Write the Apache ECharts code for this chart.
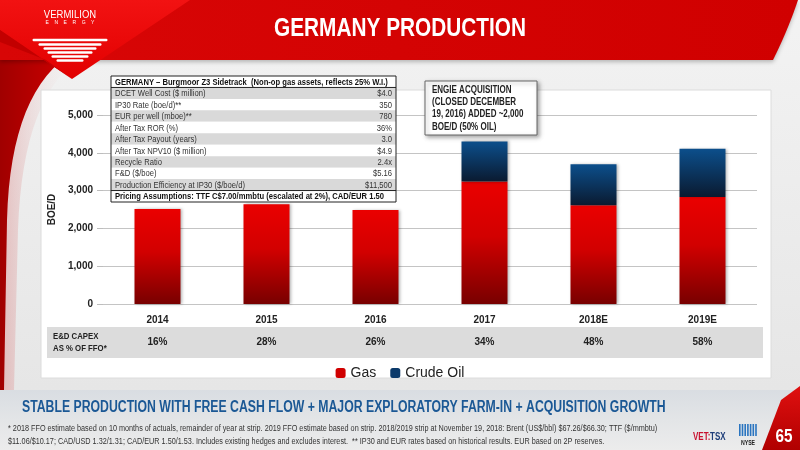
<!DOCTYPE html>
<html><head><meta charset="utf-8">
<script src="https://cdn.jsdelivr.net/npm/echarts@6/dist/echarts.min.js"></script>
<style>html,body{margin:0;padding:0;background:#fff}#c{width:800px;height:450px}</style>
</head><body><div id="c"></div>
<script>
const years = ['2014','2015','2016','2017','2018E','2019E'];
const gas = [2510, 2640, 2490, 3240, 2610, 2830];
const oil = [0, 0, 0, 1060, 1090, 1280];
const capex = ['16%','28%','26%','34%','48%','58%'];
const yMin = 0, yMax = 5000, yStep = 1000;
const tableTitle = 'GERMANY \u2013 Burgmoor Z3 Sidetrack  (Non-op gas assets, reflects 25% W.I.)';
const tableLabels = ['DCET Well Cost ($ million)','IP30 Rate (boe/d)**','EUR per well (mboe)**','After Tax ROR (%)','After Tax Payout (years)','After Tax NPV10 ($ million)','Recycle Ratio','F&D ($/boe)','Production Efficiency at IP30 ($/boe/d)'];
const tableValues = ['$4.0','350','780','36%','3.0','$4.9','2.4x','$5.16','$11,500'];
const tableFoot = 'Pricing Assumptions: TTF C$7.00/mmbtu (escalated at 2%), CAD/EUR 1.50';
const noteLines = ['ENGIE ACQUISITION','(CLOSED DECEMBER','19, 2016) ADDED ~2,000','BOE/D (50% OIL)'];
const subtitle = 'STABLE PRODUCTION WITH FREE CASH FLOW + MAJOR EXPLORATORY FARM-IN + ACQUISITION GROWTH';
const foot1 = '* 2018 FFO estimate based on 10 months of actuals, remainder of year at strip. 2019 FFO estimate based on strip. 2018/2019 strip at November 19, 2018: Brent (US$/bbl) $67.26/$66.30; TTF ($/mmbtu)';
const foot2 = '$11.06/$10.17; CAD/USD 1.32/1.31; CAD/EUR 1.50/1.53. Includes existing hedges and excludes interest.  ** IP30 and EUR rates based on historical results. EUR based on 2P reserves.';

const FONT = "'Liberation Sans',Arial,sans-serif";
function T(x, y, text, o) {
  o = o || {};
  return {type:'text', x:x, y:y, scaleX:(o.sx==null?0.82:o.sx), z:o.z==null?60:o.z,
    style:{text:text, fill:o.fill||'#222', font:(o.w||'normal')+' '+(o.s||8)+'px "Liberation Sans"',
      textAlign:o.a||'left', textVerticalAlign:'middle'}};
}
function quad(p0, c, p1, n) {
  const pts = [];
  for (let i=0;i<=n;i++){ const t=i/n, u=1-t;
    pts.push([u*u*p0[0]+2*u*t*c[0]+t*t*p1[0], u*u*p0[1]+2*u*t*c[1]+t*t*p1[1]]); }
  return pts;
}
const g = [];
// background
g.push({type:'rect', z:-20, shape:{x:0,y:0,width:800,height:450}, style:{fill:{type:'linear',x:0,y:0,x2:0,y2:1,colorStops:[{offset:0,color:'#f3f3f3'},{offset:1,color:'#e4e4e4'}]}}});
// left red strip (soft halo + strip)
const haloPts = [[0,20],[70,66]].concat(quad([70,66],[22,110],[18,230],14)).concat([[14,390],[0,390]]);
g.push({type:'polygon', z:-16, shape:{points:haloPts}, style:{fill:{type:'linear',x:0,y:0,x2:1,y2:0,colorStops:[{offset:0,color:'rgba(220,150,150,0.55)'},{offset:1,color:'rgba(240,220,220,0)'}]}}});
const leftPts = [[0,20],[60,62]].concat(quad([60,62],[10,105],[7,220],14)).concat([[4,390],[0,390]]);
g.push({type:'polygon', z:-15, shape:{points:leftPts}, style:{fill:{type:'linear',x:0,y:0,x2:1,y2:0,colorStops:[{offset:0,color:'#a00000'},{offset:1,color:'#c80000'}]}}});
// bottom band
g.push({type:'rect', z:-14, shape:{x:0,y:390,width:800,height:60}, style:{fill:{type:'linear',x:0,y:0,x2:0,y2:1,colorStops:[{offset:0,color:'#d9dde2'},{offset:0.5,color:'#e3e5e7'},{offset:1,color:'#ececec'}]}}});
// header
const headPts = [[0,0],[798,0]].concat(quad([798,0],[788,30],[773,60],10)).concat([[0,60]]);
g.push({type:'polygon', z:-13, shape:{points:headPts}, style:{fill:{type:'linear',x:0,y:0,x2:1,y2:0,colorStops:[{offset:0,color:'#d80606'},{offset:1,color:'#d00000'}]}, shadowBlur:4, shadowColor:'rgba(0,0,0,0.25)', shadowOffsetY:2}});
// logo triangle
g.push({type:'polygon', z:-12, shape:{points:[[0,0],[190,0],[72,79],[0,30]]}, style:{fill:{type:'linear',x:0,y:0,x2:0,y2:1,colorStops:[{offset:0,color:'#f21212'},{offset:1,color:'#e20000'}]}}});
g.push({type:'polygon', z:-12, shape:{points:[[0,30],[72,79],[46,60],[0,42]]}, style:{fill:'#c20000'}});
// logo text + stripes
g.push(T(70,15,'VERMILION',{fill:'#fff',s:10,a:'center',sx:0.95,z:-11}));
g.push(T(70,23,'E    N    E    R    G    Y',{fill:'#fff',s:5,a:'center',sx:1,z:-11}));
[[40,75],[44.5,63],[48.5,53],[52.5,45],[56.5,37],[60.5,27]].forEach(function(s){
  g.push({type:'rect', z:-11, shape:{x:70-s[1]/2,y:s[0]-1.2,width:s[1],height:2.4,r:1.2}, style:{fill:'#ffffff'}});
});
// title
g.push(T(400,29,'GERMANY PRODUCTION',{fill:'#fff',w:'bold',s:26,a:'center',sx:0.8,z:-10}));
// panel
g.push({type:'rect', z:-9, shape:{x:41,y:90,width:730,height:288}, style:{fill:'#ffffff', stroke:'#dcdcdc', lineWidth:1}});
// capex band
g.push({type:'rect', z:-8, shape:{x:47,y:327,width:716,height:31}, style:{fill:'#dcdcdc'}});
g.push(T(53,336.5,'E&D CAPEX',{w:'bold',s:9.5,fill:'#222'}));
g.push(T(53,348.5,'AS % OF FFO*',{w:'bold',s:9.5,fill:'#222'}));
// table
const tx = 111, tw = 285, ty = 76, rh = 126/11;
g.push({type:'rect', z:50, shape:{x:tx,y:ty,width:tw,height:rh*11}, style:{fill:'#fff'}});
for (let i=0;i<tableLabels.length;i++){
  const y = ty + rh*(i+1);
  g.push({type:'rect', z:51, shape:{x:tx,y:y,width:tw,height:rh}, style:{fill: i%2===0 ? '#d9d9d9' : '#ffffff'}});
  g.push(T(tx+4, y+rh/2+0.5, tableLabels[i], {s:9.3,fill:'#333',z:55}));
  g.push(T(tx+tw-4, y+rh/2+0.5, tableValues[i], {s:9.3,fill:'#333',a:'right',z:55}));
}
g.push(T(tx+4, ty+rh/2+0.5, tableTitle, {w:'bold',s:9.3,fill:'#111',z:55}));
g.push(T(tx+4, ty+rh*10+rh/2+0.5, tableFoot, {w:'bold',s:9.3,fill:'#111',z:55}));
g.push({type:'line', z:56, shape:{x1:tx,y1:ty+rh,x2:tx+tw,y2:ty+rh}, style:{stroke:'#222',lineWidth:1}});
g.push({type:'line', z:56, shape:{x1:tx,y1:ty+rh*10,x2:tx+tw,y2:ty+rh*10}, style:{stroke:'#222',lineWidth:1}});
g.push({type:'rect', z:56, shape:{x:tx,y:ty,width:tw,height:rh*11}, style:{fill:'none',stroke:'#222',lineWidth:1}});
// annotation box
g.push({type:'rect', z:50, shape:{x:425,y:81,width:112,height:54}, style:{fill:'#fff',stroke:'#666',lineWidth:1,shadowBlur:4,shadowOffsetX:2,shadowOffsetY:2,shadowColor:'rgba(0,0,0,0.35)'}});
noteLines.forEach(function(t,i){ g.push(T(432, 90+i*12.3, t, {w:'bold',s:10,fill:'#222',sx:0.8,z:55})); });
// subtitle & footnotes
g.push(T(22,408,subtitle,{w:'bold',s:16,fill:'#1b5895',sx:0.766,z:5}));
g.push(T(8,429,foot1,{s:8.3,fill:'#333',sx:0.875,z:5}));
g.push(T(8,442,foot2,{s:8.3,fill:'#333',sx:0.875,z:5}));
// bottom-right corner + logo
g.push({type:'polygon', z:4, shape:{points:[[762,450],[781,400],[800,386],[800,450]]}, style:{fill:{type:'linear',x:0,y:0,x2:0,y2:1,colorStops:[{offset:0,color:'#e01010'},{offset:1,color:'#b00000'}]}}});
g.push(T(784,437,'65',{w:'bold',s:18,fill:'#fff',a:'center',sx:0.85,z:6}));
g.push(T(693,437,'VET:',{w:'bold',s:10,fill:'#c8102e',sx:0.8,z:6}));
g.push(T(710,437,'TSX',{w:'bold',s:10,fill:'#1f3f7a',sx:0.8,z:6}));
for (let i=0;i<7;i++) g.push({type:'rect', z:6, shape:{x:739+i*2.7,y:424,width:1.6,height:12}, style:{fill:'#2a75c0'}});
g.push(T(748,443,'NYSE',{w:'bold',s:6.5,fill:'#222',a:'center',sx:0.8,z:6}));

const gasColor = {type:'linear',x:0,y:0,x2:0,y2:1,colorStops:[{offset:0,color:'#ea0000'},{offset:0.45,color:'#d20000'},{offset:1,color:'#780000'}]};
const oilColor = {type:'linear',x:0,y:0,x2:0,y2:1,colorStops:[{offset:0,color:'#0c4f8c'},{offset:1,color:'#0a1a30'}]};

const chart = echarts.init(document.getElementById('c'), null, {renderer:'canvas'});
chart.setOption({
  animation:false,
  textStyle:{fontFamily:FONT},
  graphic:g,
  grid:{left:103, right:43, top:115, bottom:146, containLabel:false},
  legend:{top:361, left:'center', itemWidth:10, itemHeight:10, itemGap:14,
    textStyle:{fontSize:14, color:'#222', fontFamily:FONT},
    data:[{name:'Gas', itemStyle:{color:'#d00000'}},{name:'Crude Oil', itemStyle:{color:'#0c3a6a'}}]},
  xAxis:[
    {type:'category', data:years, axisLine:{show:false}, axisTick:{show:false},
     axisLabel:{fontWeight:'bold', fontSize:10, color:'#222', margin:11, fontFamily:FONT}},
    {type:'category', data:capex, position:'bottom', offset:28, axisLine:{show:false}, axisTick:{show:false},
     axisLabel:{fontWeight:'bold', fontSize:10, color:'#222', margin:5, fontFamily:FONT}}
  ],
  yAxis:{type:'value', min:yMin, max:yMax, interval:yStep,
    name:'BOE/D', nameLocation:'middle', nameGap:44, nameRotate:90,
    nameTextStyle:{fontWeight:'bold', fontSize:10, color:'#222', fontFamily:FONT},
    axisLine:{show:false}, axisTick:{show:true, length:6, lineStyle:{color:'#bdbdbd'}},
    axisLabel:{fontWeight:'bold', fontSize:10, color:'#222', margin:10, fontFamily:FONT,
      formatter:function(v){return v.toLocaleString('en-US');}},
    splitLine:{lineStyle:{color:'#c4c4c4', width:1}}},
  series:[
    {name:'Gas', type:'bar', stack:'p', data:gas, barWidth:46, xAxisIndex:0,
     itemStyle:{color:gasColor, shadowBlur:3, shadowOffsetX:1.5, shadowColor:'rgba(0,0,0,0.3)'}},
    {name:'Crude Oil', type:'bar', stack:'p', data:oil, barWidth:46, xAxisIndex:0,
     itemStyle:{color:oilColor, shadowBlur:3, shadowOffsetX:1.5, shadowColor:'rgba(0,0,0,0.3)'}}
  ]
});
</script></body></html>
